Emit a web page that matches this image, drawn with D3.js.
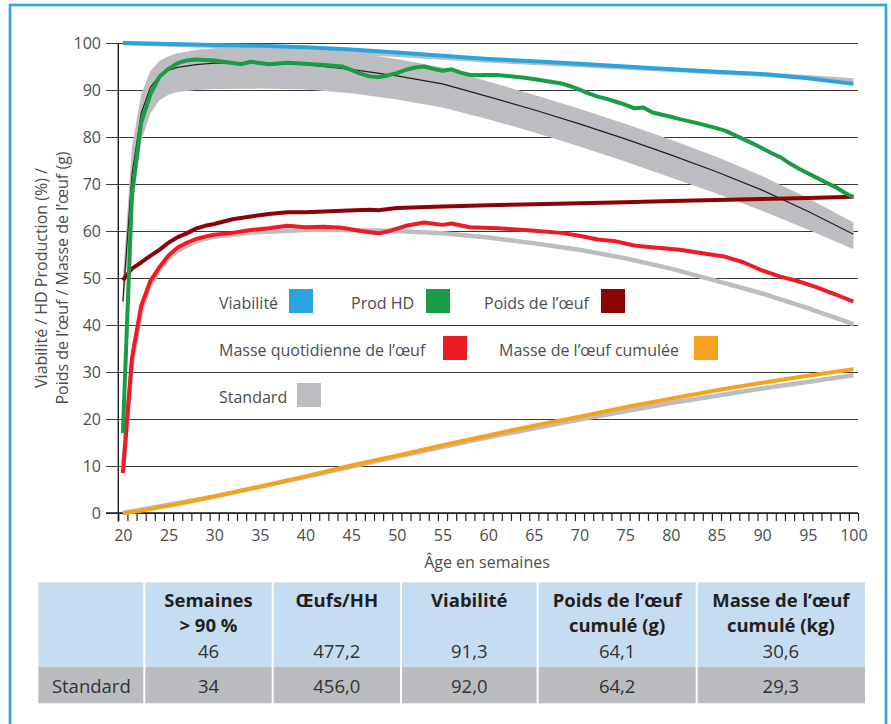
<!DOCTYPE html>
<html><head><meta charset="utf-8">
<script src="https://cdn.jsdelivr.net/npm/d3@7"></script>
<style>
html,body{margin:0;padding:0;background:#fff;}
svg{display:block;font-family:"Open Sans","Noto Sans",sans-serif;}
</style></head><body>
<script>
// ---------- DATA ----------
const xTickLabels = [20,25,30,35,40,45,50,55,60,65,70,75,80,85,90,95,100];
const yTickLabels = [0,10,20,30,40,50,60,70,80,90,100];

// Viabilité (%)
const viabWeeks = [20,25,30,35,40,45,50,55,60,65,70,75,80,85,90,95,100];
const viabilite = [100,99.8,99.6,99.4,99.1,98.6,98.0,97.3,96.6,96.1,95.6,95.0,94.4,93.9,93.4,92.5,91.3];
const viabStdWeeks = [20,25,30,35,40,45,50,55,60,65,70,75,80,85,90,95,100];
const viabiliteStd = [100,99.7,99.4,99.0,98.6,98.0,97.5,96.9,96.3,95.8,95.3,94.8,94.3,93.8,93.3,92.7,92.0];

// Prod HD (%)
const prodWeeks = [20,21,22,23,24,25,26,27,28,30,31,33,34,36,38,40,42,44,45,46,47,48,49,50,51,52,53,54,55,56,57,58,61,64,66,68,69,70,71,72,73,74,75,76,77,78,80,81,83,85,86,87,88,89,90,91,92,93,94,95,96,97,98,99,100];
const prodHD = [17,68,83,89,92.8,94.5,95.7,96.3,96.5,96.3,96.0,95.5,96.0,95.5,95.8,95.6,95.3,95.0,94.3,93.5,92.9,92.7,93.1,93.6,94.3,94.8,95.0,94.5,94.1,94.4,93.7,93.2,93.2,92.6,92.0,91.4,90.8,90.1,89.3,88.6,88.1,87.5,86.9,86.1,86.3,85.2,84.3,83.8,82.9,81.9,81.3,80.4,79.5,78.6,77.6,76.6,75.7,74.4,73.3,72.3,71.3,70.3,69.4,68.2,67.2];
// Standard Prod HD : band (min / max) and mean line
const prodStdWeeks = [20,21,22,23,24,25,26,28,30,35,40,45,50,55,60,65,70,75,80,85,90,95,100];
const prodStd      = [45,72,85,90.5,93,94.2,94.8,95.4,95.7,95.8,95.4,94.4,93.0,91.3,88.6,85.8,82.8,79.6,76.2,72.6,68.7,64.2,59.3];
const prodStdHigh  = [50,78,89,94,96.2,97.2,97.8,98.5,98.9,99.1,98.9,98.0,96.6,94.8,91.8,89.0,86.0,82.8,79.4,75.8,71.7,67.0,61.8];
const prodStdLow   = [43,64,79,85,87.8,89.0,89.6,90.0,90.2,90.3,90.1,89.3,88.0,86.3,83.8,81.0,78.0,74.8,71.4,68.0,64.3,60.3,56.1];

// Poids de l'œuf (g)
const poidsWeeks = [20,21,22,23,24,25,26,27,28,29,30,32,34,36,38,40,44,47,48,50,55,60,65,70,75,80,85,90,95,100];
const poidsOeuf = [49.5,52,53.3,54.7,56,57.5,58.7,59.5,60.5,61.1,61.5,62.5,63.1,63.6,64.0,64.0,64.3,64.5,64.4,64.9,65.2,65.5,65.7,65.9,66.1,66.4,66.6,66.8,67.0,67.3];

// Masse quotidienne de l'œuf (g)
const masseWeeks = [20,21,22,23,24,25,26,27,28,29,30,32,34,36,38,40,42,44,46,48,49,51,53,55,56,58,61,64,68,70,72,74,76,77,81,84,86,88,90,92,94,96,98,100];
const masseQuot = [8.5,33,44,49.3,52.3,54.8,56.5,57.5,58.3,58.8,59.2,59.6,60.2,60.6,61.1,60.8,60.9,60.7,60.0,59.5,59.9,61.1,61.8,61.3,61.6,60.8,60.6,60.2,59.6,59.0,58.2,57.8,56.9,56.7,56.0,55.1,54.5,53.3,51.6,50.3,49.3,48.0,46.5,45.0];
const masseStdWeeks = [20,21,22,23,24,25,26,28,30,35,40,45,50,55,60,65,70,75,80,85,90,95,100];
const masseQuotStd = [9,32,43,48.5,51.8,54.2,55.8,57.8,58.8,59.8,60.2,60.2,60.0,59.5,58.6,57.4,56.0,54.2,52.0,49.4,46.7,43.6,40.2];

// Masse de l'œuf cumulée (kg)
const cumulWeeks = [20,22,24,26,28,30,35,40,45,50,55,60,65,70,75,80,85,90,95,100];
const masseCumul = [0,0.5,1.2,1.9,2.7,3.5,5.6,7.8,10.1,12.2,14.4,16.5,18.6,20.5,22.5,24.3,26.1,27.7,29.2,30.6];
const cumulStdWeeks = [20,30,40,50,60,70,80,90,100];
const masseCumulStd = [0,3.5,7.7,12.0,16.1,19.9,23.4,26.5,29.3];

// Legend
const legendRows = [
  [["Viabilité","#2ba3dd"],["Prod HD","#1a9b45"],["Poids de l’œuf","#8b0304"]],
  [["Masse quotidienne de l’œuf","#ed1c24"],["Masse de l’œuf cumulée","#f6a21d"]],
  [["Standard","#bcbdc0"]]
];

// Table
const tableHeaders = [["Semaines","> 90 %"],["Œufs/HH"],["Viabilité"],["Poids de l’œuf","cumulé (g)"],["Masse de l’œuf","cumulé (kg)"]];
const tableValues = ["46","477,2","91,3","64,1","30,6"];
const standardLabel = "Standard";
const standardValues = ["34","456,0","92,0","64,2","29,3"];

// ---------- DRAW ----------
const W = 891, H = 724;
const svg = d3.select("body").append("svg").attr("width", W).attr("height", H);

const C = {blue:"#2ba3dd", green:"#1a9b45", dred:"#8b0304", red:"#ed1c24", orange:"#f6a21d", grey:"#bcbdc0", text:"#4d4d4d"};

// outer frame
svg.append("rect").attr("x",10).attr("y",5).attr("width",876).attr("height",740)
  .attr("fill","none").attr("stroke","#2ea5df").attr("stroke-width",2.6);

const x = d3.scaleLinear().domain([19.5,100.5]).range([118.3,858]);
const y = d3.scaleLinear().domain([0,100]).range([513,43]);

// gridlines + y labels
const yAxis = svg.append("g").attr("transform","translate(106,0)")
  .call(d3.axisLeft(y).tickValues(yTickLabels).tickSize(-(858-106)).tickPadding(5).tickFormat(d3.format("d")));
yAxis.select(".domain").remove();
yAxis.selectAll(".tick line").attr("stroke","#3a3a3a").attr("stroke-width",1.1);
yAxis.selectAll(".tick text").attr("fill",C.text).style("font-size","16px").style("font-family","'Open Sans'");

// x minor ticks (week boundaries)
const halfWeeks = d3.range(19.5, 101, 1);
const xMinor = svg.append("g").attr("transform","translate(0,513)")
  .call(d3.axisBottom(x).tickValues(halfWeeks).tickSize(8).tickFormat(""));
xMinor.select(".domain").remove();
xMinor.selectAll(".tick line").attr("stroke","#222").attr("stroke-width",1.2);

const xLab = svg.append("g").attr("transform","translate(0,513)")
  .call(d3.axisBottom(x).tickValues(xTickLabels).tickSize(0).tickPadding(17));
xLab.select(".domain").remove();
xLab.selectAll(".tick text").attr("fill",C.text).style("font-size","16px").style("font-family","'Open Sans'");

// axis lines
svg.append("line").attr("x1",x(19.5)).attr("x2",x(19.5)).attr("y1",y(100)).attr("y2",521.5)
  .attr("stroke","#1a1a1a").attr("stroke-width",1.4);
svg.append("line").attr("x1",106).attr("x2",858).attr("y1",y(0)).attr("y2",y(0))
  .attr("stroke","#1a1a1a").attr("stroke-width",1.4);

// axis titles
svg.append("text").attr("x",487).attr("y",568).attr("text-anchor","middle")
  .attr("fill",C.text).style("font-size","16px").text("Âge en semaines");
const yt = svg.append("text").attr("transform","translate(0,278) rotate(-90)")
  .attr("text-anchor","middle").attr("fill",C.text).style("font-size","16px");
yt.append("tspan").attr("x",0).attr("y",47).text("Viabilité / HD Production (%) /");
yt.append("tspan").attr("x",0).attr("y",68).text("Poids de l’œuf / Masse de l’œuf (g)");

// helpers
const zip = (ws, vs) => ws.map((w,i)=>[w, vs[i]]);
const line = d3.line().x(d=>x(d[0])).y(d=>y(d[1]));
function drawLine(ws, vs, color, width){
  svg.append("path").datum(zip(ws,vs)).attr("d",line)
    .attr("fill","none").attr("stroke",color).attr("stroke-width",width)
    .attr("stroke-linejoin","round");
}

// standard band
const area = d3.area().x(d=>x(d.w)).y0(d=>y(d.lo)).y1(d=>y(d.hi));
svg.append("path").datum(prodStdWeeks.map((w,i)=>({w, lo:prodStdLow[i], hi:prodStdHigh[i]})))
  .attr("d",area).attr("fill",C.grey);
drawLine(prodStdWeeks, prodStd, "#231f20", 1.2);

// standard lines
drawLine(viabStdWeeks, viabiliteStd, C.grey, 4.5);
drawLine(masseStdWeeks, masseQuotStd, C.grey, 4.5);
drawLine(cumulStdWeeks, masseCumulStd, C.grey, 4.5);

// actual lines
drawLine(viabWeeks, viabilite, C.blue, 4);
drawLine(cumulWeeks, masseCumul, C.orange, 4);
drawLine(masseWeeks, masseQuot, C.red, 4);
drawLine(poidsWeeks, poidsOeuf, C.dred, 4);
drawLine(prodWeeks, prodHD, C.green, 4);

// legend
const legendStartX = [[219,351,484],[219,499],[219]];
const legendSqX = [[289,426,601],[443,694],[297]];
const legendY = [289,336,383];
legendRows.forEach((row,r)=>{
  row.forEach((item,i)=>{
    svg.append("text").attr("x",legendStartX[r][i]).attr("y",legendY[r]+19.5)
      .attr("fill",C.text).style("font-size","16px").text(item[0]);
    svg.append("rect").attr("x",legendSqX[r][i]).attr("y",legendY[r]).attr("width",24).attr("height",24)
      .attr("fill",item[1]);
  });
});

// table
const colEdges = [38.3,144.3,272.7,401,537.6,696.7,865];
const rowTop = 582.3, rowMid = 666.7, rowBot = 703.3;
for (let i=0;i<6;i++){
  const x0 = colEdges[i] + (i>0?1:0), x1 = colEdges[i+1] - (i<5?1:0);
  svg.append("rect").attr("x",x0).attr("y",rowTop).attr("width",x1-x0).attr("height",rowMid-rowTop).attr("fill","#c6ddf1");
  svg.append("rect").attr("x",x0).attr("y",rowMid).attr("width",x1-x0).attr("height",rowBot-rowMid).attr("fill","#bbbcbf");
}
const colCenter = i => (colEdges[i]+colEdges[i+1])/2;
tableHeaders.forEach((h,i)=>{
  h.forEach((t,k)=>{
    svg.append("text").attr("x",colCenter(i+1)).attr("y",606.7+k*25).attr("text-anchor","middle")
      .attr("fill","#231f20").style("font-size","18.5px").style("font-weight","bold").text(t);
  });
});
tableValues.forEach((v,i)=>{
  svg.append("text").attr("x",colCenter(i+1)).attr("y",658.3).attr("text-anchor","middle")
    .attr("fill","#333").style("font-size","18.5px").text(v);
});
svg.append("text").attr("x",colCenter(0)).attr("y",693.3).attr("text-anchor","middle")
  .attr("fill","#333").style("font-size","18.5px").text(standardLabel);
standardValues.forEach((v,i)=>{
  svg.append("text").attr("x",colCenter(i+1)).attr("y",693.3).attr("text-anchor","middle")
    .attr("fill","#333").style("font-size","18.5px").text(v);
});
</script>
</body></html>
